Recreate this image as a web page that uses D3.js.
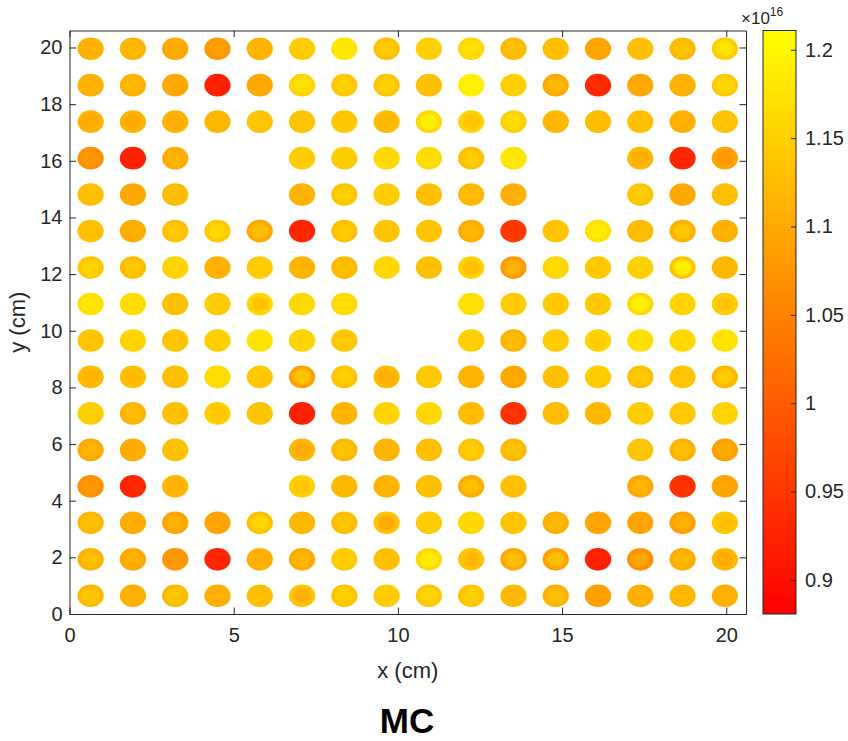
<!DOCTYPE html>
<html>
<head>
<meta charset="utf-8">
<script src="https://cdn.jsdelivr.net/npm/d3@7"></script>
<style>
  body { margin: 0; background: #ffffff; }
  text { font-family: "Liberation Sans", Arial, Helvetica, sans-serif; }
</style>
</head>
<body>
<svg id="chart" width="848" height="741"></svg>
<script>
// Assembly geometry (cm)
const assemblyWidth = 20.6;
const pinsPerSide = 16;
const pinRadius = 0.4;
const coreRadius = 0.27;

// Axis ticks
const xTicks = [0, 5, 10, 15, 20];
const yTicks = [0, 2, 4, 6, 8, 10, 12, 14, 16, 18, 20];
const cbTicks = [0.9, 0.95, 1, 1.05, 1.1, 1.15, 1.2];
const fluxRange = [0.8807, 1.2109]; // ×1e16

// Flux in the outer ring of each pin (×1e16); rows from top (y≈20 cm) to bottom, null = water hole
const ringFlux = [
  [1.109,1.114,1.098,1.077,1.114,1.145,1.181,1.129,1.150,1.160,1.119,1.129,1.093,1.129,1.119,1.145],
  [1.109,1.109,1.098,0.922,1.098,1.155,1.140,1.135,1.129,1.191,1.150,1.098,0.935,1.098,1.109,1.140],
  [1.114,1.114,1.114,1.119,1.135,1.135,1.140,1.124,1.160,1.155,1.150,1.119,1.124,1.129,1.109,1.135],
  [1.067,0.922,1.103,null,null,1.145,1.145,1.160,1.166,1.129,1.176,null,null,1.119,0.932,1.093],
  [1.129,1.098,1.124,null,null,1.114,1.135,1.145,1.129,1.119,1.109,null,null,1.135,1.098,1.129],
  [1.129,1.103,1.129,1.140,1.098,0.932,1.129,1.135,1.135,1.103,0.953,1.135,1.171,1.124,1.109,1.109],
  [1.140,1.124,1.155,1.109,1.145,1.114,1.119,1.160,1.129,1.155,1.077,1.155,1.140,1.150,1.135,1.119],
  [1.171,1.166,1.129,1.145,1.160,1.160,1.166,null,null,1.171,1.145,1.140,1.140,1.160,1.155,1.145],
  [1.135,1.155,1.135,1.150,1.176,1.155,1.140,null,null,1.150,1.114,1.145,1.155,1.171,1.160,1.176],
  [1.124,1.129,1.129,1.166,1.140,1.088,1.135,1.124,1.140,1.114,1.098,1.129,1.145,1.129,1.135,1.119],
  [1.150,1.114,1.129,1.150,1.135,0.922,1.114,1.155,1.160,1.124,0.943,1.124,1.119,1.145,1.140,1.155],
  [1.098,1.103,1.129,null,null,1.119,1.119,1.114,1.129,1.135,1.119,null,null,1.135,1.109,1.088],
  [1.067,0.932,1.119,null,null,1.150,1.119,1.114,1.129,1.103,1.129,null,null,1.098,0.943,1.093],
  [1.119,1.103,1.093,1.093,1.129,1.119,1.124,1.135,1.145,1.160,1.135,1.109,1.093,1.093,1.088,1.140],
  [1.109,1.098,1.077,0.932,1.109,1.098,1.145,1.129,1.160,1.135,1.098,1.088,0.922,1.067,1.103,1.119],
  [1.119,1.109,1.119,1.109,1.129,1.135,1.135,1.145,1.140,1.135,1.119,1.109,1.088,1.109,1.119,1.109]
];

// Flux in the central region of each pin (×1e16), same layout
const coreFlux = [
  [1.109,1.119,1.103,1.088,1.114,1.145,1.181,1.145,1.150,1.171,1.129,1.129,1.098,1.129,1.135,1.176],
  [1.109,1.119,1.098,0.922,1.098,1.171,1.150,1.150,1.129,1.191,1.150,1.119,0.935,1.098,1.109,1.160],
  [1.103,1.098,1.103,1.119,1.135,1.135,1.140,1.119,1.191,1.135,1.166,1.119,1.124,1.129,1.109,1.135],
  [1.077,0.922,1.114,null,null,1.145,1.145,1.160,1.166,1.145,1.181,null,null,1.109,0.932,1.077],
  [1.129,1.098,1.124,null,null,1.114,1.150,1.145,1.129,1.124,1.109,null,null,1.145,1.098,1.129],
  [1.129,1.103,1.140,1.160,1.124,0.932,1.145,1.135,1.135,1.119,0.953,1.135,1.186,1.124,1.140,1.109],
  [1.155,1.140,1.155,1.109,1.145,1.114,1.129,1.160,1.129,1.129,1.109,1.166,1.140,1.150,1.191,1.119],
  [1.181,1.166,1.129,1.145,1.135,1.160,1.166,null,null,1.171,1.145,1.140,1.140,1.191,1.155,1.135],
  [1.135,1.155,1.135,1.150,1.176,1.155,1.140,null,null,1.150,1.124,1.145,1.145,1.171,1.160,1.176],
  [1.114,1.119,1.129,1.166,1.140,1.135,1.150,1.109,1.140,1.114,1.098,1.129,1.145,1.140,1.135,1.145],
  [1.150,1.124,1.129,1.140,1.135,0.922,1.114,1.155,1.160,1.124,0.943,1.124,1.119,1.145,1.140,1.155],
  [1.114,1.103,1.129,null,null,1.103,1.135,1.114,1.129,1.145,1.135,null,null,1.135,1.129,1.103],
  [1.077,0.932,1.109,null,null,1.135,1.119,1.114,1.129,1.129,1.129,null,null,1.114,0.943,1.093],
  [1.129,1.103,1.109,1.093,1.160,1.119,1.135,1.103,1.145,1.160,1.135,1.119,1.093,1.093,1.109,1.129],
  [1.129,1.109,1.077,0.932,1.109,1.119,1.145,1.129,1.186,1.119,1.129,1.129,0.922,1.098,1.119,1.103],
  [1.135,1.109,1.140,1.109,1.129,1.109,1.150,1.145,1.155,1.150,1.119,1.129,1.088,1.109,1.119,1.109]
];

const svg = d3.select("#chart");
const plot = { left: 69.5, right: 746, top: 30.5, bottom: 614 };
const axisColor = "#262626";

const x = d3.scaleLinear().domain([0, assemblyWidth]).range([plot.left, plot.right]);
const y = d3.scaleLinear().domain([0, assemblyWidth]).range([plot.bottom, plot.top]);

// autumn colormap: red (low) -> yellow (high)
const color = d3.scaleLinear().domain(fluxRange)
  .range(["rgb(255,0,0)", "rgb(255,255,0)"]).clamp(true);

const defs = svg.append("defs");
defs.append("filter").attr("id", "soft").attr("x", "-20%").attr("y", "-20%")
  .attr("width", "140%").attr("height", "140%")
  .append("feGaussianBlur").attr("stdDeviation", 0.6);
defs.append("filter").attr("id", "softer").attr("x", "-30%").attr("y", "-30%")
  .attr("width", "160%").attr("height", "160%")
  .append("feGaussianBlur").attr("stdDeviation", 1.3);

// Build the pin list from the flux tables
const pitch = assemblyWidth / pinsPerSide;
const pins = [];
ringFlux.forEach((row, r) => {
  row.forEach((v, c) => {
    if (v === null) return;
    pins.push({
      cx: (c + 0.5) * pitch,
      cy: assemblyWidth - (r + 0.5) * pitch,
      ring: v,
      core: coreFlux[r][c]
    });
  });
});

const rx = x(pinRadius) - x(0), ry = y(0) - y(pinRadius);
const crx = x(coreRadius) - x(0), cry = y(0) - y(coreRadius);

const pinLayer = svg.append("g").attr("filter", "url(#soft)");
pinLayer.selectAll("ellipse.ring").data(pins).join("ellipse")
  .attr("class", "ring")
  .attr("cx", d => x(d.cx)).attr("cy", d => y(d.cy))
  .attr("rx", rx).attr("ry", ry)
  .attr("fill", d => color(d.ring));

const coreLayer = svg.append("g").attr("filter", "url(#softer)");
coreLayer.selectAll("ellipse.core").data(pins).join("ellipse")
  .attr("class", "core")
  .attr("cx", d => x(d.cx)).attr("cy", d => y(d.cy))
  .attr("rx", crx).attr("ry", cry)
  .attr("fill", d => color(d.core));

// Axes box with inward ticks on all sides
const tickLen = 6.5;
const fontSize = 20;

const xAxis = svg.append("g").attr("transform", `translate(0,${plot.bottom})`)
  .call(d3.axisBottom(x).tickValues(xTicks).tickSize(-tickLen).tickSizeOuter(0).tickPadding(14));
const xAxisTop = svg.append("g").attr("transform", `translate(0,${plot.top})`)
  .call(d3.axisTop(x).tickValues(xTicks).tickSize(-tickLen).tickSizeOuter(0).tickFormat(""));
const yAxis = svg.append("g").attr("transform", `translate(${plot.left},0)`)
  .call(d3.axisLeft(y).tickValues(yTicks).tickSize(-tickLen).tickSizeOuter(0).tickPadding(7));
const yAxisRight = svg.append("g").attr("transform", `translate(${plot.right},0)`)
  .call(d3.axisRight(y).tickValues(yTicks).tickSize(-tickLen).tickSizeOuter(0).tickFormat(""));

[xAxis, xAxisTop, yAxis, yAxisRight].forEach(g => {
  g.select(".domain").attr("stroke", axisColor).attr("stroke-width", 1);
  g.selectAll(".tick line").attr("stroke", axisColor).attr("stroke-width", 1);
  g.selectAll(".tick text").attr("fill", axisColor)
    .style("font-size", fontSize + "px")
    .style("font-family", "'Liberation Sans', Arial, sans-serif");
});

// Axis titles
svg.append("text")
  .attr("x", (plot.left + plot.right) / 2).attr("y", 678)
  .attr("text-anchor", "middle").attr("fill", axisColor)
  .style("font-size", "22px").text("x (cm)");
svg.append("text")
  .attr("transform", `translate(25,${(plot.top + plot.bottom) / 2}) rotate(-90)`)
  .attr("text-anchor", "middle").attr("fill", axisColor)
  .style("font-size", "22px").text("y (cm)");

// Title under the plot
svg.append("text")
  .attr("x", 407).attr("y", 733)
  .attr("text-anchor", "middle").attr("fill", "#000")
  .style("font-size", "35px").style("font-weight", "bold").text("MC");

// Colorbar
const cb = { left: 763, right: 796 };
const cbScale = d3.scaleLinear().domain(fluxRange).range([plot.bottom, plot.top]);
const grad = defs.append("linearGradient").attr("id", "autumn")
  .attr("x1", 0).attr("y1", 1).attr("x2", 0).attr("y2", 0);
grad.append("stop").attr("offset", "0%").attr("stop-color", color(fluxRange[0]));
grad.append("stop").attr("offset", "100%").attr("stop-color", color(fluxRange[1]));

svg.append("rect")
  .attr("x", cb.left).attr("y", cbScale(fluxRange[1]))
  .attr("width", cb.right - cb.left)
  .attr("height", cbScale(fluxRange[0]) - cbScale(fluxRange[1]))
  .attr("fill", "url(#autumn)")
  .attr("stroke", axisColor).attr("stroke-width", 1);

const cbAxis = svg.append("g").attr("transform", `translate(${cb.right},0)`)
  .call(d3.axisRight(cbScale).tickValues(cbTicks).tickSize(-5).tickSizeOuter(0).tickPadding(9)
    .tickFormat(d => d3.format("")(+d.toFixed(2))));
cbAxis.select(".domain").remove();
cbAxis.selectAll(".tick line").attr("stroke", axisColor);
cbAxis.selectAll(".tick text").attr("fill", axisColor)
  .style("font-size", fontSize + "px")
  .style("font-family", "'Liberation Sans', Arial, sans-serif");

// Exponent label above the colorbar
const expo = svg.append("text").attr("x", 741).attr("y", 24)
  .attr("fill", axisColor).style("font-size", "17px");
expo.append("tspan").text("×10");
expo.append("tspan").attr("dy", -8).style("font-size", "12px").text("16");
</script>
</body>
</html>
